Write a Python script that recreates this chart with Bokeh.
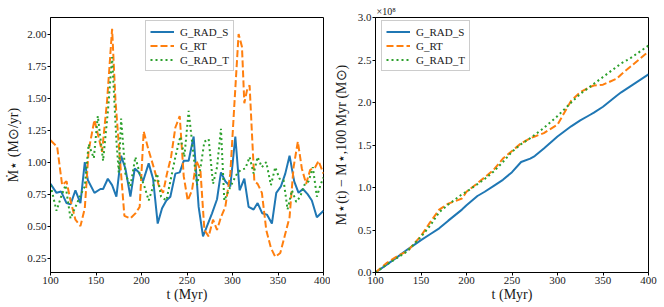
from bokeh.plotting import figure
from bokeh.layouts import row
from bokeh.models import FixedTicker, PrintfTickFormatter, Range1d, Legend, LegendItem
from bokeh.embed import file_html
from bokeh.resources import INLINE

# ---------------- data: left panel (star formation rate, Msun/yr) ----------------
t_rad_s = [100, 106.6, 111.7, 117.6, 122, 127.4, 132.9, 137.7, 141, 148.3, 154.9, 157.8, 163, 167.7,
           172.4, 177.6, 182.3, 187.8, 192.6, 197, 201.7, 207.9, 212.7, 217.8, 222.6, 227.3, 231.7,
           237.2, 242, 246.4, 251.8, 257.3, 262.8, 267.6, 272, 277.5, 283, 287.3, 292.1, 297.6,
           303.1, 307.8, 313, 317.7, 323.2, 327.6, 332.7, 337.8, 343.3, 348.1, 353.2, 358, 362.7,
           367.8, 372.6, 377.4, 382.5, 387.2, 392.7, 400]
sfr_rad_s = [0.83, 0.76, 0.77, 0.68, 0.67, 0.78, 0.68, 1.00, 0.86, 0.76, 0.79, 0.79, 0.87, 0.82,
             0.73, 1.05, 0.95, 0.73, 0.95, 0.92, 0.85, 0.99, 0.87, 0.52, 0.64, 0.70, 0.73,
             0.91, 0.92, 1.01, 1.01, 1.20, 0.65, 0.42, 0.50, 0.60, 0.71, 0.92, 0.85, 0.81,
             1.20, 0.78, 0.87, 0.65, 0.63, 0.68, 0.60, 0.59, 0.52, 0.76, 0.81, 0.91, 1.05,
             0.85, 0.76, 0.79, 0.75, 0.70, 0.57, 0.62]

t_rt = [100, 107.3, 112.8, 117.6, 122, 127.4, 132.9, 137.7, 141.9, 148.3, 152, 156.7, 162.2, 167.7,
        171.4, 176.1, 181.2, 187.8, 193.3, 198, 202.4, 207.9, 213.4, 218.9, 223.7, 228, 232.5,
        237.2, 242, 246.4, 250.8, 255.5, 260.3, 264.7, 269.1, 273.8, 278.6, 283, 287.3, 292.1,
        297.6, 302.3, 306.7, 310.4, 313, 315.9, 318.8, 321.4, 324, 327.6, 332.3, 337.1, 342.2,
        347, 352.5, 358, 362.7, 367.1, 371.8, 376.2, 380.9, 385.4, 390.9, 394.5, 400]
sfr_rt = [1.17, 1.12, 0.82, 0.85, 0.70, 0.55, 0.50, 0.64, 1.09, 1.33, 1.22, 1.08, 1.48, 2.04,
          1.48, 1.04, 0.58, 0.56, 0.60, 0.65, 1.24, 1.09, 0.96, 0.82, 0.76, 0.91, 1.04,
          1.27, 1.36, 0.89, 0.70, 0.78, 1.01, 0.94, 0.47, 0.42, 0.55, 0.47, 0.57, 0.65,
          0.91, 1.48, 2.00, 1.90, 1.46, 1.56, 1.60, 1.22, 0.85, 0.83, 0.76, 0.47, 0.33,
          0.26, 0.29, 0.44, 0.57, 0.96, 1.16, 0.95, 0.83, 0.94, 0.96, 1.01, 0.91]

t_rad_t = [100, 106.6, 111.7, 116.5, 122, 127.4, 132.9, 137.7, 141.9, 147.6, 152, 157.8, 163, 167.7,
           172.4, 175, 177.6, 182.3, 187.8, 193.3, 198, 203.2, 207.9, 212.7, 217.1, 221.5, 227.3,
           231.7, 237.2, 242.7, 247.1, 251.8, 256.6, 261, 264.7, 269.1, 273.8, 278.6, 283, 287.3,
           291, 295.8, 300.6, 305, 309.3, 314.1, 318.8, 323.2, 327.6, 332.3, 337.1, 342.2, 347,
           351.7, 356.1, 360.5, 365.3, 370, 374.4, 378.8, 383.6, 388.3, 392.7, 397.1, 400]
sfr_rad_t = [0.82, 0.62, 0.73, 0.82, 0.56, 0.65, 0.74, 0.81, 1.14, 1.03, 1.36, 1.01, 1.39, 1.82,
             1.17, 0.92, 1.34, 0.91, 0.81, 1.04, 0.91, 0.81, 0.70, 0.81, 0.91, 0.73, 0.70,
             0.85, 1.04, 1.20, 1.04, 1.40, 1.09, 0.82, 0.95, 1.16, 1.18, 0.83, 0.96, 1.26,
             0.70, 0.78, 0.85, 0.91, 0.94, 0.95, 1.04, 0.91, 1.04, 0.96, 1.00, 0.82, 0.96,
             0.87, 0.86, 0.63, 0.78, 0.69, 0.73, 0.82, 0.85, 0.96, 0.73, 0.83, 0.88]

# ---------------- data: right panel (cumulative stellar mass, units of 1e8 Msun) ----------------
t_cum = [100, 112, 125, 135, 150, 160, 170, 180, 195, 200, 212, 220, 230, 240, 250, 260, 270, 275,
         285, 300, 315, 325, 335, 340, 350, 365, 370, 380, 400]
m_rad_s = [0.0, 0.09, 0.19, 0.27, 0.38, 0.45, 0.52, 0.61, 0.74, 0.79, 0.90, 0.95, 1.02, 1.09, 1.18,
           1.30, 1.34, 1.37, 1.46, 1.60, 1.72, 1.79, 1.85, 1.88, 1.95, 2.08, 2.12, 2.19, 2.33]
m_rt = [0.0, 0.11, 0.20, 0.25, 0.43, 0.59, 0.74, 0.81, 0.87, 0.95, 1.05, 1.12, 1.21, 1.34, 1.43,
        1.52, 1.58, 1.60, 1.64, 1.74, 2.02, 2.12, 2.18, 2.20, 2.21, 2.28, 2.33, 2.42, 2.60]
m_rad_t = [0.0, 0.09, 0.18, 0.25, 0.42, 0.55, 0.71, 0.80, 0.92, 0.95, 1.04, 1.10, 1.19, 1.30, 1.42,
           1.51, 1.58, 1.62, 1.70, 1.84, 2.00, 2.10, 2.18, 2.22, 2.30, 2.42, 2.46, 2.52, 2.67]

names = ["G_RAD_S", "G_RT", "G_RAD_T"]
colors = ["#1f77b4", "#ff7f0e", "#2ca02c"]
dashes = ["solid", "7 3", "2 3"]

x_ticks = [100, 150, 200, 250, 300, 350, 400]
y_ticks_left = [0.25, 0.50, 0.75, 1.00, 1.25, 1.50, 1.75, 2.00]
y_ticks_right = [0.0, 0.5, 1.0, 1.5, 2.0, 2.5, 3.0]

SERIF = "Liberation Serif"
TXT = "#1a1a1a"


def style(p, xlabel, ylabel, ylabel_standoff):
    p.outline_line_color = "black"
    p.outline_line_alpha = 1
    p.outline_line_width = 1
    p.grid.visible = False
    for ax in (p.xaxis[0], p.yaxis[0]):
        ax.major_label_text_font = SERIF
        ax.major_label_text_font_size = "11px"
        ax.major_label_text_color = TXT
        ax.axis_label_text_font = SERIF
        ax.axis_label_text_font_size = "14px"
        ax.axis_label_text_font_style = "normal"
        ax.axis_label_text_color = TXT
        ax.minor_tick_line_color = None
        ax.major_tick_in = 0
        ax.major_tick_out = 3
        ax.major_label_standoff = 1
        ax.axis_line_color = "black"
    p.xaxis[0].axis_label_standoff = 0
    p.yaxis[0].axis_label_standoff = ylabel_standoff
    p.xaxis[0].axis_label = xlabel
    p.yaxis[0].axis_label = ylabel
    p.xaxis[0].ticker = FixedTicker(ticks=x_ticks)
    p.background_fill_color = "white"
    p.border_fill_color = "white"


H = 306
TOP = 17
BOTTOM = 34
FRAME_H = H - TOP - BOTTOM

# ---------------- left panel ----------------
p1 = figure(width=330, height=H, output_backend="svg", toolbar_location=None,
            x_range=Range1d(100, 400), y_range=Range1d(0.138, 2.129),
            min_border_left=50, min_border_right=7, min_border_top=TOP, min_border_bottom=BOTTOM)
style(p1, "t (Myr)", "Ṁ⋆ (M⊙/yr)", 3)
p1.yaxis[0].ticker = FixedTicker(ticks=y_ticks_left)
p1.yaxis[0].formatter = PrintfTickFormatter(format="%.2f")

left_sets = [(t_rad_s, sfr_rad_s), (t_rt, sfr_rt), (t_rad_t, sfr_rad_t)]
items1 = []
for (tt, vv), n, c, d in zip(left_sets, names, colors, dashes):
    r = p1.line(tt, vv, line_color=c, line_width=2, line_dash=d)
    items1.append(LegendItem(label=n, renderers=[r]))

# ---------------- right panel ----------------
p2 = figure(width=330, height=H, output_backend="svg", toolbar_location=None,
            x_range=Range1d(100, 400), y_range=Range1d(0, 3.0),
            min_border_left=45, min_border_right=12, min_border_top=TOP, min_border_bottom=BOTTOM,
            title="×10⁸")
style(p2, "t (Myr)", "M⋆(t) − M⋆,100 Myr (M⊙)", 6)
p2.yaxis[0].ticker = FixedTicker(ticks=y_ticks_right)
p2.yaxis[0].formatter = PrintfTickFormatter(format="%.1f")
p2.title.text_font = SERIF
p2.title.text_font_size = "10px"
p2.title.text_font_style = "normal"
p2.title.text_color = TXT
p2.title.align = "left"
p2.title.standoff = 1
p2.title.offset = 1

right_sets = [m_rad_s, m_rt, m_rad_t]
items2 = []
for vv, n, c, d in zip(right_sets, names, colors, dashes):
    r = p2.line(t_cum, vv, line_color=c, line_width=2, line_dash=d)
    items2.append(LegendItem(label=n, renderers=[r]))

LEG_H = 49


def make_legend(items, x):
    lg = Legend(items=items, location=(x, FRAME_H - 5 - LEG_H), label_text_font=SERIF,
                label_text_font_size="11px", label_text_color=TXT, glyph_width=24,
                glyph_height=13, label_height=13, spacing=1, padding=4, margin=0,
                border_line_color="#cccccc", border_line_alpha=1,
                background_fill_alpha=0.85, label_standoff=6)
    return lg


p1.add_layout(make_legend(items1, 95))
p2.add_layout(make_legend(items2, 6))

layout = row(p1, p2)
open("out.html", "w").write(file_html(layout, INLINE))
